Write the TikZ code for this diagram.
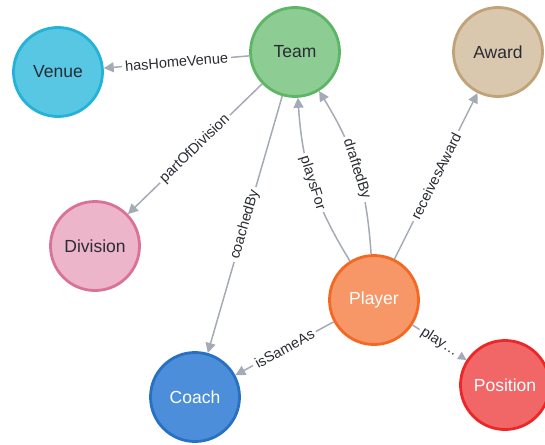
\documentclass[tikz,border=0pt]{standalone}
\usepackage{fontspec}
\setmainfont{Liberation Sans}
\usetikzlibrary{arrows.meta}
\definecolor{edgegray}{HTML}{A5ABB6}
\definecolor{labeltext}{HTML}{2A2C34}
\definecolor{venuefill}{HTML}{57C7E3}\definecolor{venueline}{HTML}{23B3D7}
\definecolor{teamfill}{HTML}{8DCC93}\definecolor{teamline}{HTML}{5DB665}
\definecolor{awardfill}{HTML}{D9C8AE}\definecolor{awardline}{HTML}{C0A378}
\definecolor{divfill}{HTML}{ECB5C9}\definecolor{divline}{HTML}{DA7298}
\definecolor{playerfill}{HTML}{F79767}\definecolor{playerline}{HTML}{F36924}
\definecolor{coachfill}{HTML}{4C8EDA}\definecolor{coachline}{HTML}{2870C2}
\definecolor{posfill}{HTML}{F16667}\definecolor{posline}{HTML}{EB2728}
\begin{document}
\begin{tikzpicture}[x=1pt,y=-1pt,
  ent/.style={circle, minimum size=89pt, line width=2.8pt, inner sep=0pt,
    font=\fontsize{17.5}{19}\selectfont},
  darktext/.style={text=labeltext},
  lighttext/.style={text=white},
  edge/.style={draw=edgegray, line width=1.5pt, -{Triangle[length=10pt,width=10pt]}},
  elabel/.style={sloped, fill=white, inner xsep=3pt, inner ysep=1pt, text=labeltext,
    font=\fontsize{14.5}{16}\selectfont}
]
\useasboundingbox[fill=white] (0,0) rectangle (545,444);

\node[ent, darktext, fill=venuefill, draw=venueline] (venue) at (58,72) {Venue};
\node[ent, darktext, fill=teamfill, draw=teamline] (team) at (295,52) {Team};
\node[ent, darktext, fill=awardfill, draw=awardline] (award) at (498,52) {Award};
\node[ent, darktext, fill=divfill, draw=divline] (division) at (95,246) {Division};
\node[ent, lighttext, fill=playerfill, draw=playerline] (player) at (374,300) {Player};
\node[ent, lighttext, fill=coachfill, draw=coachline] (coach) at (195,397) {Coach};
\node[ent, lighttext, fill=posfill, draw=posline] (position) at (505,385) {Position};

\draw[edge] (team) -- node[elabel] {hasHomeVenue} (venue);
\draw[edge] (team) -- node[elabel] {partOfDivision} (division);
\draw[edge] (team) -- node[elabel] {coachedBy} (coach);
\draw[edge] (player) to[bend left=14] node[elabel] {playsFor} (team);
\draw[edge] (player) to[bend right=14] node[elabel] {draftedBy} (team);
\draw[edge] (player) -- node[elabel] {receivesAward} (award);
\draw[edge] (player) -- node[elabel] {isSameAs} (coach);
\draw[edge] (player) -- node[elabel] {play…} (position);
\end{tikzpicture}
\end{document}
